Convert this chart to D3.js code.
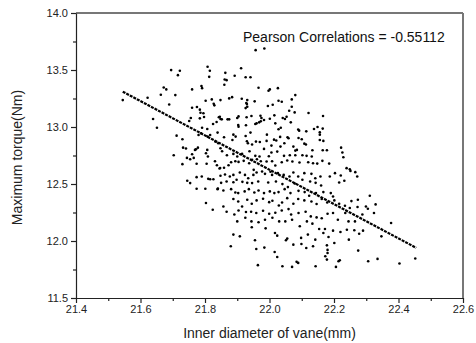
<!DOCTYPE html>
<html>
<head>
<meta charset="utf-8">
<script src="https://cdn.jsdelivr.net/npm/d3@7"></script>
<style>
  body { margin: 0; background: #fff; }
  svg { display: block; font-family: "Liberation Sans", Arial, sans-serif; }
  .axis path, .axis line { stroke: #222; stroke-width: 1.2px; }
  .axis text { fill: #222; font-size: 11px; }
</style>
</head>
<body>
<div id="chart"></div>
<script>
// inner diameter of vane (mm) and maximum torque (Nm)
const diameter = [
  21.957, 21.984, 21.808, 21.815, 21.695, 21.722, 21.716, 21.912, 21.813, 21.863,
  21.861, 21.867, 21.892, 21.926, 21.941, 21.860, 21.672, 21.680, 21.760, 21.789,
  21.791, 21.966, 21.997, 22.001, 22.026, 21.663, 21.622, 21.708, 21.875, 21.884,
  21.914, 21.931, 21.802, 21.821, 21.954, 22.069, 22.080, 22.028, 22.038, 21.827,
  21.829, 21.928, 21.930, 21.689, 21.545, 21.760, 21.775, 21.784, 21.786, 21.926,
  21.931, 21.995, 22.010, 22.061, 22.069, 22.121, 22.166, 21.797, 21.795, 21.846,
  21.848, 21.870, 21.875, 21.904, 21.900, 21.929, 21.944, 21.972, 21.975, 22.015,
  22.041, 22.053, 22.078, 21.639, 21.651, 21.756, 21.751, 21.784, 21.825, 21.836,
  21.843, 21.852, 21.903, 21.904, 21.927, 21.956, 21.960, 21.968, 21.973, 21.983,
  22.001, 22.018, 22.028, 22.035, 22.048, 22.066, 22.089, 22.092, 22.114, 22.138,
  22.149, 22.156, 22.165, 22.156, 21.712, 21.730, 21.780, 21.788, 21.808, 21.816,
  21.888, 21.895, 21.926, 21.941, 21.992, 22.014, 22.021, 22.033, 22.059, 22.090,
  22.100, 22.108, 22.113, 22.156, 22.167, 21.732, 21.741, 21.772, 21.778, 21.807,
  21.832, 21.841, 21.859, 21.885, 21.930, 21.933, 21.946, 21.958, 21.970, 21.991,
  22.006, 22.034, 22.046, 22.056, 22.074, 22.080, 22.085, 22.133, 22.165, 22.178,
  22.222, 22.226, 21.703, 21.744, 21.760, 21.769, 21.803, 21.809, 21.848, 21.853,
  21.868, 21.888, 21.900, 21.915, 21.938, 21.956, 21.969, 21.983, 21.998, 22.006,
  22.024, 22.045, 22.063, 22.080, 22.102, 22.115, 22.131, 22.229, 21.730, 21.754,
  21.765, 21.774, 21.805, 21.831, 21.837, 21.845, 21.859, 21.873, 21.881, 21.894,
  21.904, 21.920, 21.937, 21.946, 21.961, 21.973, 21.991, 22.008, 22.018, 22.038,
  22.055, 22.071, 22.093, 22.120, 22.135, 22.148, 22.164, 22.185, 22.239, 22.249,
  22.251, 22.266, 21.774, 21.790, 21.816, 21.826, 21.848, 21.862, 21.877, 21.888,
  21.898, 21.908, 21.924, 21.934, 21.951, 21.950, 21.960, 21.977, 21.986, 22.003,
  22.008, 22.026, 22.044, 22.062, 22.074, 22.089, 22.108, 22.130, 22.142, 22.158,
  22.187, 22.203, 22.216, 22.221, 22.232, 22.272, 21.745, 21.754, 21.801, 21.810,
  21.840, 21.850, 21.867, 21.888, 21.916, 21.931, 21.946, 21.965, 21.996, 22.020,
  22.040, 22.057, 22.078, 22.102, 22.126, 22.143, 22.160, 21.774, 21.839, 21.857,
  21.881, 21.894, 21.903, 21.923, 21.936, 21.953, 21.966, 21.983, 22.001, 22.015,
  22.028, 22.047, 22.065, 22.090, 22.109, 22.123, 22.144, 22.167, 22.190, 22.197,
  22.254, 22.274, 22.311, 21.803, 21.824, 21.857, 21.888, 21.903, 21.915, 21.931,
  21.945, 21.960, 21.980, 21.999, 22.009, 22.029, 22.039, 22.055, 22.074, 22.089,
  22.108, 22.130, 22.146, 22.162, 22.179, 22.201, 22.216, 22.234, 22.249, 22.273,
  22.299, 22.329, 22.324, 22.305, 21.867, 21.891, 21.904, 21.927, 21.943, 21.959,
  21.980, 21.999, 22.018, 22.038, 22.059, 22.067, 22.090, 22.112, 22.128, 22.146,
  22.162, 22.180, 22.197, 22.212, 22.235, 22.288, 22.245, 22.265, 21.900, 21.925,
  21.944, 21.966, 21.986, 22.009, 22.030, 22.049, 22.070, 22.094, 22.116, 22.133,
  22.154, 22.172, 22.197, 22.220, 22.240, 22.263, 22.278, 22.290, 22.377, 21.888,
  21.908, 21.945, 21.988, 22.017, 22.024, 22.055, 22.051, 22.098, 22.119, 22.142,
  22.167, 22.183, 22.246, 22.347, 21.880, 21.955, 21.959, 21.984, 22.016, 22.024,
  22.074, 22.099, 22.114, 22.135, 22.178, 22.180, 22.180, 22.201, 22.218, 22.275,
  22.214, 22.306, 22.335, 22.403, 22.452, 21.964, 22.040, 22.070, 22.084, 22.089,
  22.143, 22.206, 22.178, 22.173, 21.848, 21.791, 21.807, 21.839, 21.847
];
const torque = [
  13.674, 13.688, 13.528, 13.493, 13.499, 13.493, 13.455, 13.516, 13.440, 13.475,
  13.417, 13.411, 13.449, 13.437, 13.437, 13.370, 13.347, 13.330, 13.330, 13.359,
  13.341, 13.344, 13.318, 13.330, 13.341, 13.283, 13.257, 13.280, 13.251, 13.262,
  13.248, 13.236, 13.230, 13.242, 13.225, 13.242, 13.280, 13.230, 13.222, 13.204,
  13.190, 13.210, 13.201, 13.198, 13.236, 13.169, 13.175, 13.152, 13.125, 13.166,
  13.178, 13.184, 13.195, 13.143, 13.178, 13.123, 13.096, 13.088, 13.120, 13.090,
  13.070, 13.067, 13.067, 13.093, 13.079, 13.085, 13.096, 13.099, 13.079, 13.102,
  13.079, 13.090, 13.128, 13.070, 12.994, 13.079, 13.053, 13.076, 13.026, 13.044,
  13.085, 13.067, 13.018, 13.003, 13.015, 13.026, 13.032, 13.041, 13.050, 13.061,
  13.073, 13.032, 12.980, 12.994, 13.070, 13.041, 12.977, 12.968, 12.962, 12.983,
  13.000, 12.954, 12.986, 12.933, 12.924, 12.892, 12.930, 12.945, 12.916, 12.930,
  12.933, 12.916, 12.921, 12.951, 12.933, 12.889, 12.881, 12.913, 12.901, 12.904,
  12.892, 12.854, 12.846, 12.886, 12.878, 12.819, 12.811, 12.805, 12.819, 12.799,
  12.872, 12.857, 12.910, 12.886, 12.875, 12.857, 12.846, 12.872, 12.869, 12.878,
  12.837, 12.828, 12.857, 12.910, 12.828, 12.793, 12.799, 12.796, 12.796, 12.796,
  12.819, 12.776, 12.752, 12.729, 12.761, 12.799, 12.770, 12.741, 12.814, 12.787,
  12.752, 12.764, 12.741, 12.764, 12.787, 12.747, 12.741, 12.808, 12.744, 12.776,
  12.784, 12.747, 12.752, 12.752, 12.752, 12.747, 12.741, 12.735, 12.674, 12.717,
  12.729, 12.677, 12.677, 12.700, 12.665, 12.636, 12.642, 12.665, 12.691, 12.700,
  12.694, 12.703, 12.682, 12.712, 12.717, 12.700, 12.697, 12.700, 12.662, 12.691,
  12.706, 12.697, 12.688, 12.691, 12.682, 12.679, 12.703, 12.679, 12.639, 12.630,
  12.615, 12.604, 12.560, 12.566, 12.542, 12.542, 12.572, 12.583, 12.566, 12.580,
  12.537, 12.601, 12.580, 12.551, 12.624, 12.580, 12.601, 12.610, 12.589, 12.607,
  12.580, 12.595, 12.580, 12.566, 12.601, 12.566, 12.595, 12.589, 12.551, 12.566,
  12.566, 12.595, 12.513, 12.575, 12.528, 12.566, 12.528, 12.508, 12.458, 12.545,
  12.461, 12.510, 12.522, 12.516, 12.519, 12.510, 12.508, 12.522, 12.513, 12.522,
  12.499, 12.473, 12.505, 12.537, 12.522, 12.510, 12.487, 12.458, 12.455, 12.443,
  12.455, 12.426, 12.420, 12.435, 12.455, 12.426, 12.443, 12.420, 12.435, 12.420,
  12.429, 12.455, 12.420, 12.440, 12.429, 12.397, 12.420, 12.429, 12.420, 12.391,
  12.350, 12.362, 12.397, 12.333, 12.274, 12.303, 12.368, 12.347, 12.303, 12.362,
  12.327, 12.356, 12.371, 12.341, 12.353, 12.312, 12.338, 12.376, 12.327, 12.368,
  12.356, 12.347, 12.324, 12.368, 12.338, 12.356, 12.327, 12.309, 12.289, 12.298,
  12.303, 12.321, 12.245, 12.283, 12.257, 12.233, 12.268, 12.254, 12.257, 12.245,
  12.266, 12.239, 12.248, 12.268, 12.280, 12.233, 12.245, 12.257, 12.216, 12.207,
  12.199, 12.239, 12.245, 12.187, 12.245, 12.233, 12.172, 12.172, 12.172, 12.204,
  12.172, 12.164, 12.187, 12.204, 12.172, 12.172, 12.187, 12.129, 12.172, 12.152,
  12.105, 12.105, 12.091, 12.079, 12.099, 12.094, 12.064, 12.091, 12.158, 12.056,
  12.041, 12.120, 12.111, 12.070, 12.047, 12.021, 12.006, 12.027, 12.056, 12.012,
  12.070, 12.035, 12.012, 12.041, 11.954, 12.006, 11.930, 11.942, 11.904, 11.860,
  11.968, 11.974, 11.939, 11.954, 11.962, 11.922, 11.895, 11.983, 11.831, 11.916,
  11.822, 11.822, 11.843, 11.802, 11.846, 11.788, 11.779, 11.773, 11.817, 11.808,
  11.779, 11.773, 11.837, 11.866, 13.236, 12.994, 12.983, 12.951, 12.640
];
// linear fit drawn as a dashed line, end points
const fitX = [21.545, 22.455];
const fitY = [13.31, 11.94];

const xTicks = [21.4, 21.6, 21.8, 22.0, 22.2, 22.4, 22.6];
const xMinor = [21.5, 21.7, 21.9, 22.1, 22.3, 22.5];
const yTicks = [11.5, 12.0, 12.5, 13.0, 13.5, 14.0];
const yMinor = [11.75, 12.25, 12.75, 13.25, 13.75];
const pearson = "Pearson Correlations = -0.55112";

const W = 476, H = 343;
const margin = { top: 13, right: 13, bottom: 45, left: 76 };
const w = W - margin.left - margin.right;
const h = H - margin.top - margin.bottom;

const svg = d3.select("#chart").append("svg")
  .attr("width", W).attr("height", H);
const g = svg.append("g")
  .attr("transform", `translate(${margin.left},${margin.top})`);

const x = d3.scaleLinear().domain([21.4, 22.6]).range([0, w]);
const y = d3.scaleLinear().domain([11.5, 14.0]).range([h, 0]);

// frame: top and right in grey
g.append("line").attr("x1", 0).attr("x2", w).attr("y1", 0).attr("y2", 0)
  .attr("stroke", "#777").attr("stroke-width", 2);
g.append("line").attr("x1", w).attr("x2", w).attr("y1", 0).attr("y2", h)
  .attr("stroke", "#777").attr("stroke-width", 2);

// points
const pts = diameter.map((d, i) => ({ d: d, t: torque[i] }));
g.append("g").selectAll("circle")
  .data(pts).enter()
  .append("circle")
  .attr("cx", p => x(p.d))
  .attr("cy", p => y(p.t))
  .attr("r", 1.3)
  .attr("fill", "#000");

// fit line
g.append("line")
  .attr("x1", x(fitX[0])).attr("y1", y(fitY[0]))
  .attr("x2", x(fitX[1])).attr("y2", y(fitY[1]))
  .attr("stroke", "#000")
  .attr("stroke-width", 2.2)
  .attr("stroke-dasharray", "3,1");

// axes
g.append("g").attr("class", "axis")
  .attr("transform", `translate(0,${h})`)
  .call(d3.axisBottom(x).tickValues(xMinor).tickSize(3).tickFormat(""))
  .call(a => a.select(".domain").remove());
g.append("g").attr("class", "axis")
  .attr("transform", `translate(0,${h})`)
  .call(d3.axisBottom(x).tickValues(xTicks).tickSize(5).tickSizeOuter(0)
    .tickPadding(2).tickFormat(d3.format(".1f")));

g.append("g").attr("class", "axis")
  .call(d3.axisLeft(y).tickValues(yMinor).tickSize(3).tickFormat(""))
  .call(a => a.select(".domain").remove());
g.append("g").attr("class", "axis")
  .call(d3.axisLeft(y).tickValues(yTicks).tickSize(5).tickSizeOuter(0)
    .tickPadding(3).tickFormat(d3.format(".1f")));

// annotation
svg.append("text")
  .attr("x", 243)
  .attr("y", 42)
  .attr("font-size", "14px")
  .attr("fill", "#111")
  .text(pearson);

// axis titles
svg.append("text")
  .attr("x", margin.left + w / 2)
  .attr("y", 338)
  .attr("text-anchor", "middle")
  .attr("font-size", "14px")
  .attr("fill", "#222")
  .text("Inner diameter of vane(mm)");

svg.append("text")
  .attr("transform", `translate(22,${margin.top + h / 2 + 2}) rotate(-90)`)
  .attr("text-anchor", "middle")
  .attr("font-size", "14px")
  .attr("fill", "#222")
  .text("Maximum torque(Nm)");
</script>
</body>
</html>
